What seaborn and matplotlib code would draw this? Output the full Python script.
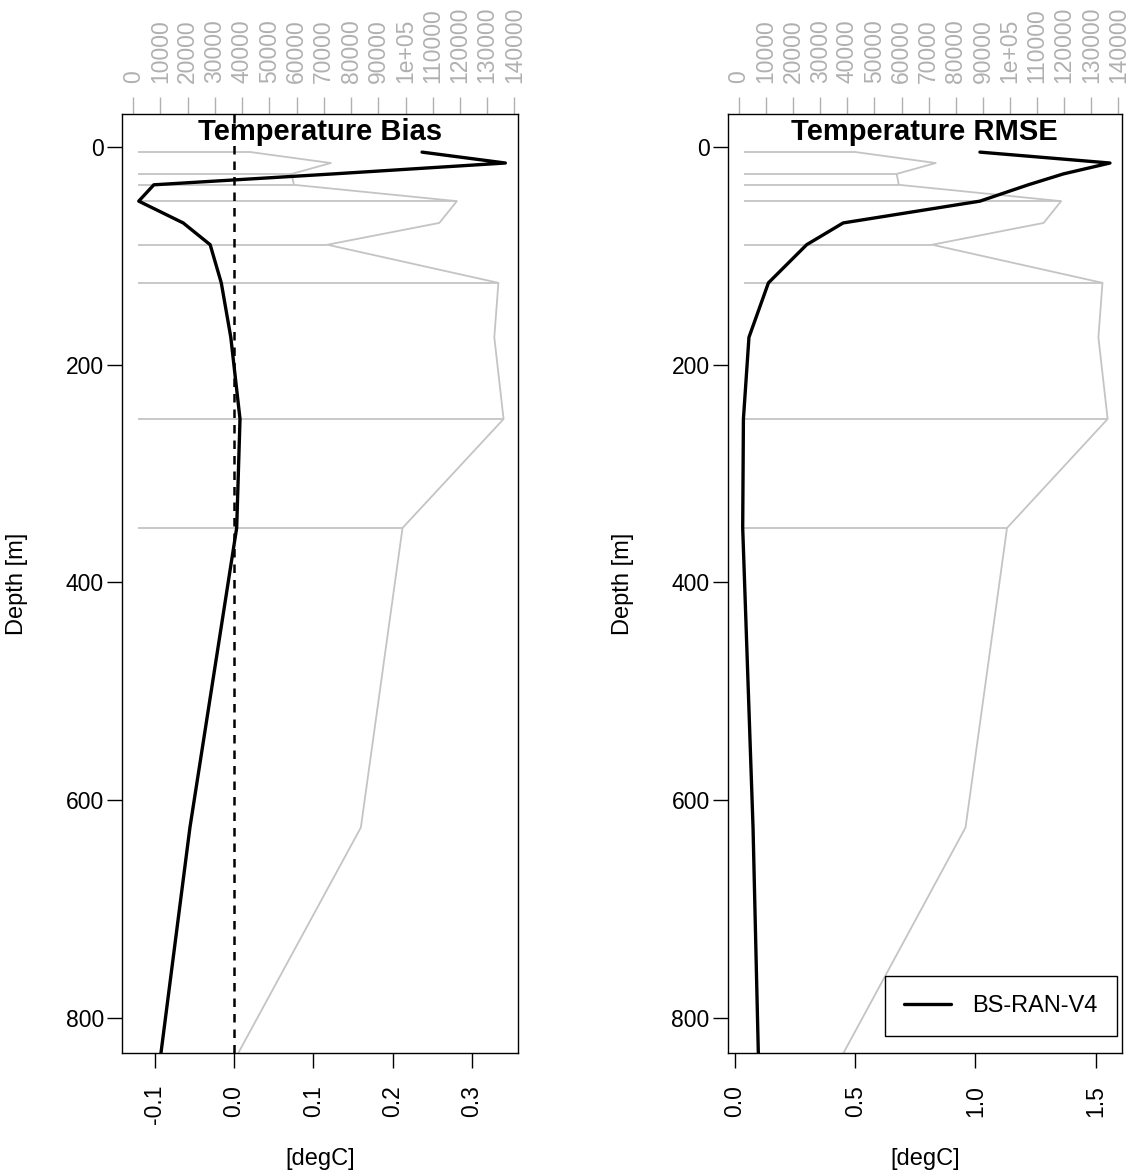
import matplotlib
matplotlib.use("Agg")
import matplotlib.pyplot as plt
import numpy as np
import pandas as pd
import seaborn as sns

# ---- profile data (depth levels in metres) ----
depth = [5, 15, 25, 35, 50, 70, 90, 125, 175, 250, 350, 625, 832]
bias = [0.237, 0.342, 0.125, -0.101, -0.120, -0.064, -0.030, -0.016,
        -0.004, 0.0076, 0.0034, -0.0555, -0.092]
rmse = [1.019, 1.56, 1.366, 1.22, 1.019, 0.450, 0.298, 0.139,
        0.058, 0.035, 0.032, 0.075, 0.097]
n_obs = [43200, 72600, 58200, 59000, 118850, 112400, 71300, 134100,
         132600, 136000, 98900, 83600, 38600]
# levels where the observation count is also drawn as a horizontal bar
marked_depths = [5, 25, 35, 50, 90, 125, 250, 350]
count_base = 1800

depth_ticks = [0, 200, 400, 600, 800]
bias_ticks = [-0.1, 0.0, 0.1, 0.2, 0.3]
rmse_ticks = [0.0, 0.5, 1.0, 1.5]
count_ticks = [0, 10000, 20000, 30000, 40000, 50000, 60000, 70000, 80000,
               90000, 100000, 110000, 120000, 130000, 140000]
count_tick_labels = ["0", "10000", "20000", "30000", "40000", "50000",
                     "60000", "70000", "80000", "90000", "1e+05", "110000",
                     "120000", "130000", "140000"]
panel_titles = ["Temperature Bias", "Temperature RMSE"]
unit_label = "[degC]"
depth_label = "Depth [m]"
experiment = "BS-RAN-V4"

df = pd.DataFrame({"depth": depth, "bias": bias, "rmse": rmse, "n_obs": n_obs})
count_at = dict(zip(depth, n_obs))
marked_counts = [count_at[d] for d in marked_depths]

sns.set_theme(style="white")
plt.rcParams["font.family"] = ["Liberation Sans", "DejaVu Sans"]
plt.rcParams.update({"text.color": "black", "axes.labelcolor": "black",
                     "xtick.color": "black", "ytick.color": "black"})

GRAY = "#c4c4c4"
COUNT_TXT = "#b0b0b0"
FS = 16.5

W, H = 1131, 1176
fig = plt.figure(figsize=(W / 100, H / 100), dpi=100)
fig.patch.set_facecolor("white")


def add_px_axes(x0, y0, x1, y1):
    return fig.add_axes([x0 / W, 1 - y1 / H, (x1 - x0) / W, (y1 - y0) / H])


panels = [
    dict(col="bias", box=(122, 114, 518, 1053), xlim=(-0.1411, 0.3579),
         ticks=bias_ticks, title=panel_titles[0], zero_line=True, legend=False),
    dict(col="rmse", box=(727.7, 114, 1122, 1053), xlim=(-0.0304, 1.610),
         ticks=rmse_ticks, title=panel_titles[1], zero_line=False, legend=True),
]

for p in panels:
    ax = add_px_axes(*p["box"])
    ax_n = ax.twiny()
    # observation counts sit behind the statistics
    ax_n.set_zorder(1)
    ax.set_zorder(2)
    ax.patch.set_visible(False)
    ax_n.patch.set_visible(True)
    ax_n.patch.set_facecolor("white")

    # number of observations per level (top axis)
    sns.lineplot(data=df, x="n_obs", y="depth", sort=False, estimator=None,
                 color=GRAY, lw=1.3, ax=ax_n)
    ax_n.hlines(marked_depths, count_base, marked_counts, color=GRAY, lw=1.3)
    ax_n.set_xlim(-4100, 141300)
    ax_n.set_xticks(count_ticks)
    ax_n.set_xticklabels(count_tick_labels, rotation=90, fontsize=FS,
                         color=COUNT_TXT)
    ax_n.tick_params(axis="x", top=True, labeltop=True, bottom=False,
                     labelbottom=False, direction="out", length=12, width=1,
                     color=COUNT_TXT, pad=10)
    ax_n.set_xlabel("")
    ax_n.set_ylabel("")
    for s in ax_n.spines.values():
        s.set_visible(False)

    # model statistic profile
    sns.lineplot(data=df, x=p["col"], y="depth", sort=False, estimator=None,
                 color="black", lw=2.4, ax=ax,
                 label=experiment if p["legend"] else None)
    if p["zero_line"]:
        ax.axvline(0, color="black", lw=1.8, ls=(0, (3.4, 2.8)))

    ax.set_xlim(*p["xlim"])
    ax.set_ylim(832, -30)

    ax.set_xticks(p["ticks"])
    ax.set_xticklabels([f"{t:.1f}" for t in p["ticks"]], rotation=90,
                       fontsize=FS, color="black")
    ax.set_yticks(depth_ticks)
    ax.set_yticklabels([str(d) for d in depth_ticks], fontsize=FS,
                       color="black")
    ax.tick_params(axis="x", bottom=True, top=False, direction="out",
                   length=11, width=1, color="black", pad=12)
    ax.tick_params(axis="y", left=True, right=False, direction="out",
                   length=11, width=1, color="black", pad=2)

    ax.set_xlabel(unit_label, fontsize=17, color="black")
    ax.xaxis.set_label_coords(0.5, -0.101)
    ax.set_ylabel(depth_label, fontsize=17, color="black")
    ax.yaxis.set_label_coords(-0.237, 0.5)

    for s in ax.spines.values():
        s.set_visible(True)
        s.set_color("black")
        s.set_linewidth(1.0)

    ax.text(0.5, 0.981, p["title"], transform=ax.transAxes, ha="center",
            va="center", fontsize=21, fontweight="bold", color="black")

    if p["legend"]:
        leg = ax.legend(loc="lower right", bbox_to_anchor=(0.9866, 0.0181),
                        borderaxespad=0, frameon=True, fancybox=False,
                        framealpha=1, edgecolor="black", fontsize=17,
                        handlelength=2.0, handletextpad=0.9, borderpad=0.8)
        leg.get_frame().set_linewidth(1.0)
        for t in leg.get_texts():
            t.set_color("black")
    elif ax.get_legend() is not None:
        ax.get_legend().remove()

fig.savefig("out.png", dpi=100, facecolor="white")
